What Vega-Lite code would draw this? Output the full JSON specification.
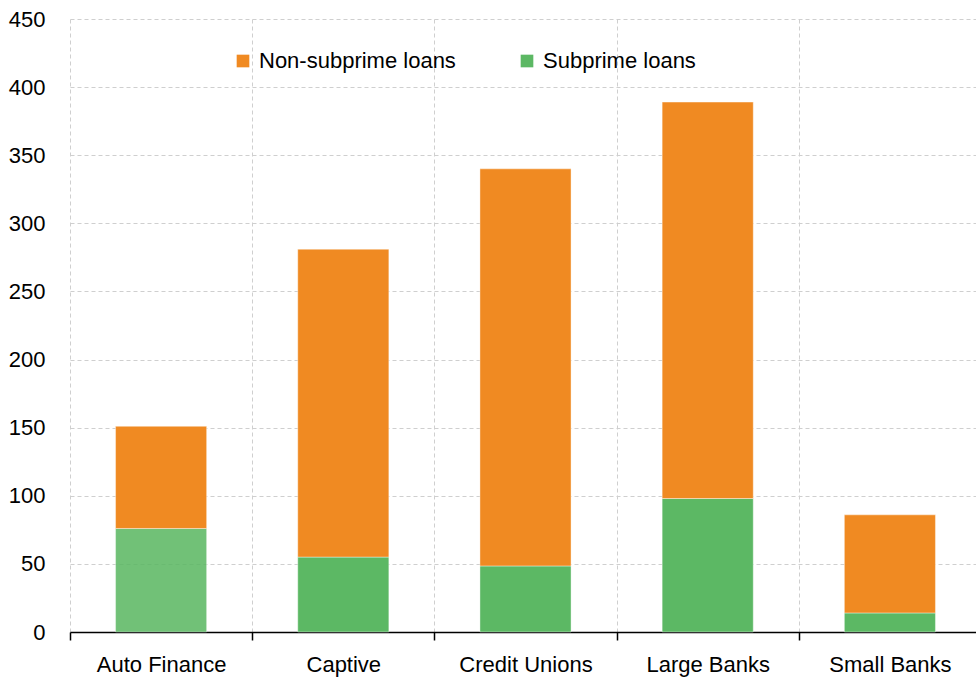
{
  "$schema": "https://vega.github.io/schema/vega-lite/v6.json",
  "autosize": "none",
  "width": 906,
  "height": 613,
  "padding": {"left": 70, "top": 19, "right": 0, "bottom": 47},
  "background": "white",
  "title": {
    "text": "Outstanding balances, Q4 2019, by originator (billions)",
    "anchor": "start",
    "orient": "top",
    "baseline": "alphabetic",
    "offset": 20,
    "dx": -20,
    "font": "Liberation Sans, Arial, sans-serif",
    "fontSize": 22,
    "fontWeight": "normal",
    "color": "black"
  },
  "data": {
    "values": [
      {"lender": "Auto Finance", "series": "Subprime loans", "value": 76},
      {"lender": "Auto Finance", "series": "Non-subprime loans", "value": 75},
      {"lender": "Captive", "series": "Subprime loans", "value": 55},
      {"lender": "Captive", "series": "Non-subprime loans", "value": 226},
      {"lender": "Credit Unions", "series": "Subprime loans", "value": 48.5},
      {"lender": "Credit Unions", "series": "Non-subprime loans", "value": 291.5},
      {"lender": "Large Banks", "series": "Subprime loans", "value": 98},
      {"lender": "Large Banks", "series": "Non-subprime loans", "value": 291},
      {"lender": "Small Banks", "series": "Subprime loans", "value": 14},
      {"lender": "Small Banks", "series": "Non-subprime loans", "value": 72}
    ]
  },
  "mark": {"type": "bar", "width": {"band": 0.5}, "stroke": "#ffffff", "strokeWidth": 0.8, "strokeOpacity": 0.5},
  "encoding": {
    "x": {
      "field": "lender",
      "type": "nominal",
      "sort": null,
      "scale": {"paddingInner": 0, "paddingOuter": 0, "range": [0, 911]},
      "axis": {
        "title": null,
        "labelAngle": 0,
        "tickBand": "extent",
        "grid": true,
        "gridColor": "#cfcfcf",
        "gridDash": [4, 3],
        "gridWidth": 1,
        "domainColor": "black",
        "domainWidth": 1.5,
        "tickColor": "black",
        "tickWidth": 1.5,
        "tickSize": 8,
        "labelPadding": 14,
        "labelFontSize": 22,
        "labelColor": "black",
        "labelLimit": 0,
        "labelFont": "Liberation Sans, Arial, sans-serif"
      }
    },
    "y": {
      "field": "value",
      "type": "quantitative",
      "stack": "zero",
      "scale": {"domain": [0, 450], "nice": false},
      "axis": {
        "title": null,
        "values": [0, 50, 100, 150, 200, 250, 300, 350, 400, 450],
        "domain": false,
        "ticks": false,
        "labelPadding": 25,
        "labelFontSize": 22,
        "labelColor": "black",
        "labelFont": "Liberation Sans, Arial, sans-serif",
        "gridColor": "#cfcfcf",
        "gridDash": [4, 3],
        "gridWidth": 1
      }
    },
    "color": {
      "field": "series",
      "type": "nominal",
      "scale": {"domain": ["Non-subprime loans", "Subprime loans"], "range": ["#f08a22", "#5cb864"]},
      "legend": {
        "title": null,
        "orient": "none",
        "legendX": 162,
        "legendY": 31,
        "direction": "horizontal",
        "columns": 2,
        "columnPadding": 60,
        "symbolType": "square",
        "symbolSize": 160,
        "symbolStrokeWidth": 0,
        "symbolOpacity": 1,
        "labelFontSize": 22,
        "labelColor": "black",
        "labelOffset": 5,
        "labelLimit": 0,
        "labelFont": "Liberation Sans, Arial, sans-serif"
      }
    },
    "order": {"field": "series", "sort": "descending"},
    "opacity": {
      "condition": {"test": "datum.lender === 'Auto Finance' && datum.series === 'Subprime loans'", "value": 0.87},
      "value": 1
    }
  },
  "config": {"view": {"stroke": null}}
}
